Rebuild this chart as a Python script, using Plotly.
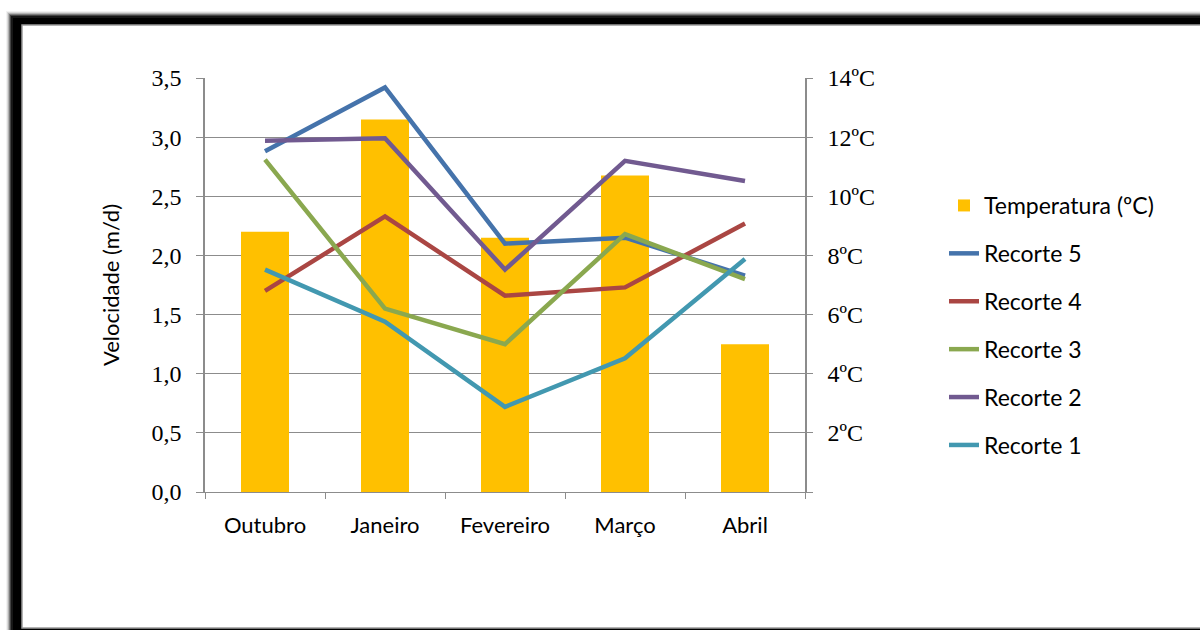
import plotly.graph_objects as go

categories = ["Outubro", "Janeiro", "Fevereiro", "Março", "Abril"]
temperatura = [8.8, 12.6, 8.6, 10.7, 5.0]
recorte5 = [2.88, 3.42, 2.10, 2.15, 1.83]
recorte4 = [1.70, 2.33, 1.66, 1.73, 2.27]
recorte3 = [2.81, 1.55, 1.25, 2.18, 1.80]
recorte2 = [2.97, 2.99, 1.88, 2.80, 2.63]
recorte1 = [1.88, 1.44, 0.72, 1.13, 1.97]
temp_ticks = [0, 2, 4, 6, 8, 10, 12, 14]
temp_labels = ["", "2ºC", "4ºC", "6ºC", "8ºC", "10ºC", "12ºC", "14ºC"]

series = [
    ("Recorte 5", recorte5, "#4573AB"),
    ("Recorte 4", recorte4, "#AA4643"),
    ("Recorte 3", recorte3, "#8AA84F"),
    ("Recorte 2", recorte2, "#715A90"),
    ("Recorte 1", recorte1, "#4298B0"),
]

W, H = 1200, 630
L, R, T, B = 205, 805, 78, 492

def px(x):
    return (x - L) / (R - L)

def py(y):
    return (B - y) / (B - T)

fig = go.Figure()
fig.add_trace(go.Bar(x=categories, y=temperatura, name="Temperatura (ºC)",
                     marker=dict(color="#FFC000", line=dict(width=0)),
                     width=0.4, yaxis="y", legendgroup="t"))
for name, vals, col in series:
    fig.add_trace(go.Scatter(x=categories, y=vals, name=name, mode="lines",
                             line=dict(color=col, width=4.5), yaxis="y2",
                             legendgroup=name))

grid = "#8C8C8C"
fig.update_layout(
    width=W, height=H,
    margin=dict(l=L, r=W - R, t=T, b=H - B),
    paper_bgcolor="white", plot_bgcolor="white",
    separators=",.",
    showlegend=True,
    legend=dict(x=px(944), y=py(184), xanchor="left", yanchor="top",
                font=dict(family="Lato", size=23, color="black"),
                traceorder="grouped", tracegroupgap=15,
                bgcolor="rgba(0,0,0,0)"),
    xaxis=dict(type="category", showline=True, linecolor=grid, linewidth=1,
               ticks="outside", tickson="boundaries", ticklen=6, tickcolor=grid,
               tickfont=dict(family="Lato", size=22, color="black"),
               showgrid=False, range=[-0.5, 4.5], ticklabelstandoff=14),
    yaxis=dict(range=[0, 14], side="right", tickvals=temp_ticks, ticktext=temp_labels,
               showgrid=True, gridcolor=grid, gridwidth=1, zeroline=False,
               showline=True, linecolor=grid, linewidth=1.5,
               ticks="outside", ticklen=6, tickcolor=grid,
               tickfont=dict(family="Liberation Serif", size=24, color="black"),
               ticklabelstandoff=10),
    yaxis2=dict(range=[0, 3.5], overlaying="y", side="left", dtick=0.5,
                tickformat=".1f", showgrid=False, zeroline=False,
                showline=True, linecolor=grid, linewidth=1.5,
                ticks="outside", ticklen=7, tickcolor=grid,
                tickfont=dict(family="Liberation Serif", size=24, color="black"),
                ticklabelstandoff=10,
                title=dict(text="Velocidade (m/d)", standoff=26,
                           font=dict(family="Lato", size=22, color="black"))),
)

# frame with shadow
shapes = []
for i, op in enumerate([0.05, 0.1, 0.18, 0.3, 0.45, 0.65]):
    off = 6 - i
    shapes.append(dict(type="rect", xref="paper", yref="paper",
                       x0=px(12 - off), x1=px(W + 10), y0=py(H + 10), y1=py(17 - off),
                       fillcolor=f"rgba(0,0,0,{op})", line=dict(width=0), layer="below"))
shapes.append(dict(type="rect", xref="paper", yref="paper",
                   x0=px(13), x1=px(W + 10), y0=py(H + 10), y1=py(18),
                   fillcolor="black", line=dict(width=0), layer="below"))
shapes.append(dict(type="rect", xref="paper", yref="paper",
                   x0=px(22), x1=px(W + 10), y0=py(628), y1=py(25),
                   fillcolor="white", line=dict(color="#9A9A9A", width=1.5), layer="below"))
fig.update_layout(shapes=shapes)

fig.write_html("out.html")
